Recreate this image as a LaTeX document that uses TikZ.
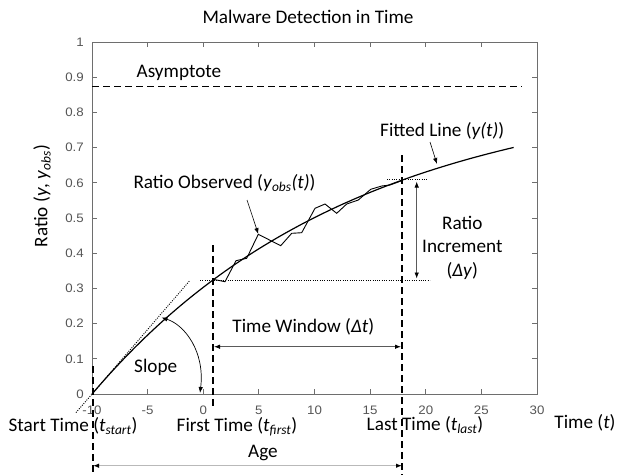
\documentclass[tikz,border=0pt]{standalone}
\usepackage{fontspec}
\setmainfont{Carlito}
\newfontfamily\tickfont[FakeStretch=1.08]{Liberation Sans}
\usetikzlibrary{arrows.meta}
\definecolor{tickgray}{RGB}{85,85,85}
\definecolor{axgray}{RGB}{110,110,110}
\definecolor{lightline}{RGB}{185,185,185}
\definecolor{midline}{RGB}{90,90,90}
\begin{document}
\begin{tikzpicture}[x=1pt,y=-1pt,
  lab/.style={font=\fontsize{19.2}{23.4}\selectfont, inner sep=0pt},
  ticklab/.style={font=\tickfont\fontsize{12.3}{14}\selectfont, text=tickgray, inner sep=0pt},
  axisline/.style={draw=axgray, line width=0.8pt},
  vdash/.style={line width=1.6pt, dash pattern=on 7pt off 4pt},
  dotline/.style={line width=0.9pt, dash pattern=on 1pt off 1.3pt},
  onearrow/.style={-{Latex[length=6pt,width=4.5pt,black]}},
  twoarrow/.style={{Latex[length=6pt,width=4.5pt,black]}-{Latex[length=6pt,width=4.5pt,black]}},
]
\useasboundingbox (0,0) rectangle (617,475);

% axes box and ticks
\draw[axisline] (92,42) rectangle (537,394);
\foreach \i in {1,...,7}{
  \pgfmathsetmacro\xx{92+\i*55.625}
  \draw[axisline] (\xx,394) -- (\xx,389);
  \draw[axisline] (\xx,42) -- (\xx,47);
}
\foreach \i in {1,...,9}{
  \pgfmathsetmacro\yy{394-\i*35.2}
  \draw[axisline] (92,\yy) -- (97,\yy);
  \draw[axisline] (537,\yy) -- (532,\yy);
}
\foreach \v [count=\i from 0] in {-10,-5,0,5,10,15,20,25,30}{
  \node[ticklab, name=xl\i] at ({92+\i*55.625},410) {\v};
}
\foreach \v [count=\i from 0] in {0,0.1,0.2,0.3,0.4,0.5,0.6,0.7,0.8,0.9,1}{
  \node[ticklab, anchor=east, name=yl\i] at (84,{394-\i*35.2}) {\v};
}

% title and axis labels
\node[lab, anchor=base, name=title] at (308,23.3) {Malware Detection in Time};
\node[lab, rotate=90, name=ylab] at (42,196) {Ratio (\textit{y}, \textit{y}\textsubscript{\textit{obs}})};
\node[lab, anchor=base, name=xlab] at (585,428) {Time (\textit{t})};

% asymptote
\draw[vdash, line width=1.5pt] (92,86.5) -- (522,86.5);
\node[lab, anchor=base west, name=asym] at (136.5,77.7) {Asymptote};

% tangent (dotted)
\draw[dotline] (76,412.6) -- (190,280.3);

% fitted curve
\draw[line width=1.2pt] plot[domain=-10:27.9, samples=90]
  ({92+(\x+10)*11.125},{394-352*0.875*(1-exp(-0.04253*(\x+10)))});

% observed line
\draw[line width=0.9pt, line join=miter] (213.3,279.3) -- (225,281.7) -- (236,260.7) -- (246.7,258.3) -- (258.3,234.3)
  -- (280.7,245.7) -- (291.7,233.3) -- (301.7,232.7) -- (315,208.3) -- (325,204) -- (336.7,213.3)
  -- (346.7,204) -- (358.3,200) -- (370.7,189.3) -- (381.7,186) -- (390,185) -- (401.7,180.7);

% dotted horizontals
\draw[dotline] (200,280) -- (430,280);
\draw[dotline] (387,179.5) -- (428,179.5);

% dashed verticals
\draw[vdash] (93,366) -- (93,475);
\draw[vdash] (213,245) -- (213,409);
\draw[vdash] (402,155) -- (402,475);

% labels
\node[lab, anchor=base west, name=obs] at (133.3,188.3) {Ratio Observed (\textit{y}\textsubscript{\textit{obs}}\textit{(t)})};
\node[lab, anchor=base west, name=fit] at (380,136.7) {Fitted Line (\textit{y(t)})};
\node[lab, anchor=base, name=incA] at (462.3,229.3) {Ratio};
\node[lab, anchor=base, name=incB] at (462.3,252.7) {Increment};
\node[lab, anchor=base, name=incC] at (462.3,276) {(\textit{Δy})};
\node[lab, anchor=base, name=tw] at (303.3,332.7) {Time Window (\textit{Δt})};
\node[lab, anchor=base, name=slope] at (155.7,372.7) {Slope};
\node[lab, anchor=base, name=tstart] at (73,431.7) {Start Time (\textit{t}\textsubscript{\textit{start}})};
\node[lab, anchor=base, name=tfirst] at (237,431.7) {First Time (\textit{t}\textsubscript{\textit{first}})};
\node[lab, anchor=base, name=tlast] at (425,430) {Last Time (\textit{t}\textsubscript{\textit{last}})};
\node[lab, anchor=base, name=age] at (263,457.7) {Age};

% connector end points
\coordinate (obsTail) at (247,200);
\coordinate (obsPeak) at (258.3,234);
\coordinate (fitTail) at (430,142);
\coordinate (fitHit) at (437,164);
\coordinate (riTop) at (416.7,181.5);
\coordinate (riBot) at (416.7,278.5);
\coordinate (twL) at (214,346.7);
\coordinate (twR) at (401,346.7);
\coordinate (agL) at (93,465.7);
\coordinate (agR) at (402,465.7);
\coordinate (slA) at (161.5,317.5);
\coordinate (slB) at (200,393);

% connectors
\draw[onearrow, line width=0.6pt] (obsTail) -- (obsPeak);
\draw[onearrow, line width=0.6pt] (fitTail) -- (fitHit);
\draw[twoarrow, draw=midline, line width=0.8pt] (riTop) -- (riBot);
\draw[twoarrow, draw=midline, line width=0.8pt] (twL) -- (twR);
\draw[twoarrow, draw=lightline, line width=1.4pt] (agL) -- (agR);
\draw[twoarrow, line width=0.7pt] (slA) .. controls (185,325) and (205,352) .. (slB);
\end{tikzpicture}
\end{document}
